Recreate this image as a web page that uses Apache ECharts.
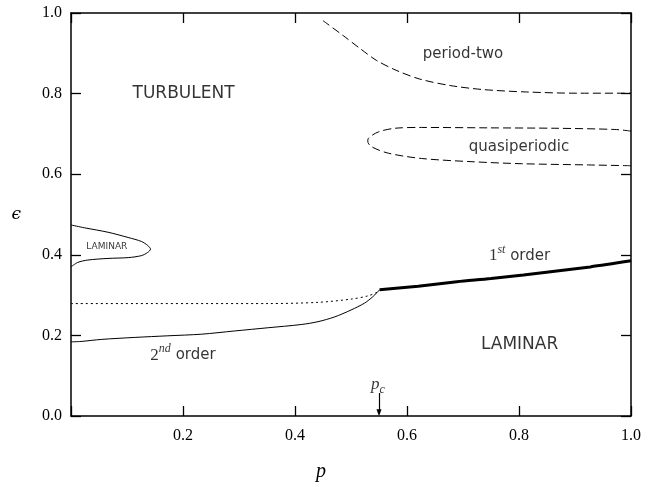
<!DOCTYPE html>
<html>
<head>
<meta charset="utf-8">
<script src="https://cdn.jsdelivr.net/npm/echarts@6/dist/echarts.min.js"></script>
<style>
html, body { margin: 0; padding: 0; background: #fff; }
#phaseChart { width: 657px; height: 487px; }
</style>
</head>
<body>
<div id="phaseChart"></div>
<script>
// curves (p, epsilon)
var periodTwoP   = [0.450, 0.486, 0.516, 0.546, 0.582, 0.623, 0.677, 0.736, 0.814, 0.904, 1.0];
var periodTwoEps = [0.981, 0.944, 0.912, 0.882, 0.857, 0.836, 0.820, 0.810, 0.804, 0.801, 0.801];

var quasiP   = [1.0, 0.971, 0.864, 0.745, 0.626, 0.579, 0.549, 0.531, 0.530, 0.537, 0.567, 0.626, 0.716, 0.805, 0.924, 1.0];
var quasiEps = [0.707, 0.711, 0.714, 0.715, 0.716, 0.714, 0.705, 0.689, 0.681, 0.668, 0.652, 0.639, 0.631, 0.626, 0.623, 0.621];

var lobeP   = [0, 0.024, 0.066, 0.102, 0.126, 0.137, 0.142, 0.137, 0.126, 0.102, 0.066, 0.030, 0.012, 0];
var lobeEps = [0.474, 0.467, 0.456, 0.443, 0.433, 0.423, 0.414, 0.406, 0.398, 0.393, 0.391, 0.387, 0.381, 0.370];

var dottedP   = [0, 0.352, 0.441, 0.500, 0.530, 0.548, 0.551];
var dottedEps = [0.279, 0.279, 0.282, 0.290, 0.298, 0.308, 0.313];

var secondP   = [0, 0.018, 0.054, 0.114, 0.173, 0.233, 0.292, 0.352, 0.411, 0.441, 0.471, 0.500, 0.524, 0.539, 0.551];
var secondEps = [0.184, 0.185, 0.190, 0.195, 0.199, 0.203, 0.211, 0.219, 0.227, 0.234, 0.246, 0.263, 0.280, 0.296, 0.313];

var firstP   = [0.551, 0.620, 0.689, 0.750, 0.808, 0.927, 1.0];
var firstEps = [0.313, 0.322, 0.333, 0.341, 0.350, 0.370, 0.385];

var pc = 0.55;
var pcArrowTop = 0.057;

// annotation texts and where they sit (data coords)
var noteText = ['{t|TURBULENT}', '{m|period-two}', '{m|quasiperiodic}', '{s|LAMINAR}',
                '{n|1}{sup|st}{m| order}', '{t|LAMINAR}', '{n|2}{sup|nd}{m| order}', '{i|p}{sub|c}'];
var noteP   = [0.201, 0.700, 0.800, 0.064, 0.801, 0.801, 0.200, 0.548];
var noteEps = [0.801, 0.898, 0.667, 0.419, 0.397, 0.176, 0.151, 0.077];

function pairs(xs, ys) {
	var out = [];
	for (var i = 0; i < xs.length; i++) out.push([xs[i], ys[i]]);
	return out;
}

var serif = 'Liberation Serif';
var sans = 'DejaVu Sans';

var notes = [];
for (var i = 0; i < noteText.length; i++) {
	notes.push({ value: [noteP[i], noteEps[i]], label: { formatter: noteText[i] } });
}

function curve(name, xs, ys, type, width) {
	return {
		name: name,
		type: 'line',
		data: pairs(xs, ys),
		showSymbol: false,
		smooth: 0.3,
		silent: true,
		lineStyle: { color: '#000', width: width, type: type }
	};
}

var chart = echarts.init(document.getElementById('phaseChart'));

var tickStyle = { inside: true, length: 10, lineStyle: { color: '#000', width: 1.3 } };
var lineAx = { show: true, onZero: false, lineStyle: { color: '#000', width: 1.5 } };

var first = curve('1st order', firstP, firstEps, 'solid', 3);
first.markLine = {
	silent: true,
	symbol: ['none', 'triangle'],
	symbolSize: [5, 7],
	label: { show: false },
	lineStyle: { color: '#000', width: 1.2, type: 'solid' },
	data: [[{ coord: [pc, pcArrowTop] }, { coord: [pc, 0.008] }]]
};

var option = {
	animation: false,
	backgroundColor: '#fff',
	grid: { left: 71, right: 26, top: 13, bottom: 71 },
	xAxis: [{
		type: 'value', min: 0, max: 1, interval: 0.2, position: 'bottom',
		axisLine: lineAx, axisTick: tickStyle, splitLine: { show: false },
		axisLabel: {
			color: '#000', fontFamily: serif, fontSize: 16, margin: 12,
			formatter: function (v) { return v === 0 ? '' : v.toFixed(1); }
		},
		name: 'p', nameLocation: 'middle', nameGap: 46,
		nameTextStyle: { color: '#000', fontFamily: serif, fontStyle: 'italic', fontSize: 20, padding: [0, 60, 0, 0] }
	}, {
		type: 'value', min: 0, max: 1, interval: 0.2, position: 'top',
		axisLine: lineAx, axisTick: tickStyle, splitLine: { show: false },
		axisLabel: { show: false }
	}],
	yAxis: [{
		type: 'value', min: 0, max: 1, interval: 0.2, position: 'left',
		axisLine: lineAx, axisTick: tickStyle, splitLine: { show: false },
		axisLabel: {
			color: '#000', fontFamily: serif, fontSize: 16, margin: 9,
			formatter: function (v) { return v.toFixed(1); }
		},
		name: '\u03f5', nameLocation: 'middle', nameGap: 50, nameRotate: 0,
		nameTextStyle: { color: '#000', fontFamily: 'DejaVu Serif', fontStyle: 'italic', fontSize: 17 }
	}, {
		type: 'value', min: 0, max: 1, interval: 0.2, position: 'right',
		axisLine: lineAx, axisTick: tickStyle, splitLine: { show: false },
		axisLabel: { show: false }
	}],
	series: [
		curve('period-two', periodTwoP, periodTwoEps, [8, 4], 1),
		curve('quasiperiodic', quasiP, quasiEps, [8, 4], 1),
		curve('laminar lobe', lobeP, lobeEps, 'solid', 1),
		curve('metastable', dottedP, dottedEps, [2, 3], 1),
		curve('2nd order', secondP, secondEps, 'solid', 1),
		first,
		{
			name: 'notes',
			type: 'scatter',
			symbolSize: 0,
			silent: true,
			data: notes,
			label: {
				show: true,
				position: 'inside',
				color: '#000',
				rich: {
					t: { fontFamily: sans, fontSize: 17, color: '#000', lineHeight: 24 },
					m: { fontFamily: sans, fontSize: 15, color: '#000', lineHeight: 24 },
					s: { fontFamily: sans, fontSize: 9, color: '#000' },
					n: { fontFamily: serif, fontSize: 17, color: '#000', lineHeight: 24 },
					sup: { fontFamily: serif, fontStyle: 'italic', fontSize: 12, color: '#000', lineHeight: 12, verticalAlign: 'top' },
					i: { fontFamily: serif, fontStyle: 'italic', fontSize: 17, color: '#000', lineHeight: 22 },
					sub: { fontFamily: serif, fontStyle: 'italic', fontSize: 12, color: '#000', lineHeight: 18, verticalAlign: 'bottom' }
				}
			}
		}
	]
};

chart.setOption(option);
</script>
</body>
</html>
